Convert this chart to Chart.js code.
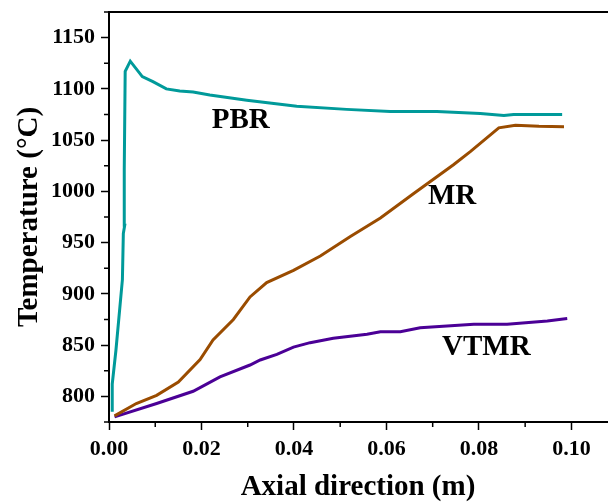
<!DOCTYPE html>
<html lang="en">
<head>
  <meta charset="UTF-8">
  <title>Axial temperature profiles</title>
  <script src="https://cdn.jsdelivr.net/npm/chart.js"></script>
  <style>
    body { margin: 0; background: #fff; }
    canvas { display: block; }
  </style>
</head>
<body>
  <canvas id="tempChart" width="608" height="502"></canvas>

  <script>
    // axial position (m) and temperature (°C)
    const pbrX = [0.0007, 0.0007, 0.0015, 0.0029, 0.0031, 0.0034, 0.0033, 0.0035, 0.0046, 0.0072, 0.0095, 0.0124, 0.0153, 0.0182, 0.0218, 0.0298, 0.0406, 0.0514, 0.0608, 0.0709, 0.0803, 0.0854, 0.0875, 0.0980];
    const pbrT = [785, 812, 845, 914, 959, 967, 1021, 1117, 1127, 1112, 1107, 1100, 1098, 1097, 1094, 1089, 1083, 1080, 1078, 1078, 1076, 1074, 1075, 1075];

    const mrX = [0.0012, 0.0059, 0.0103, 0.0150, 0.0197, 0.0225, 0.0269, 0.0305, 0.0341, 0.0399, 0.0457, 0.0522, 0.0587, 0.0659, 0.0745, 0.0782, 0.0843, 0.0879, 0.0930, 0.0984];
    const mrT = [781, 793, 801, 814, 836, 855, 875, 897, 911, 923, 937, 956, 974, 998, 1026, 1039, 1062, 1064.5, 1063.5, 1063];

    const vtmrX = [0.0012, 0.0103, 0.0182, 0.0240, 0.0305, 0.0327, 0.0363, 0.0399, 0.0435, 0.0485, 0.0558, 0.0587, 0.0630, 0.0673, 0.0789, 0.0861, 0.0948, 0.0991];
    const vtmrT = [780, 793, 805, 819, 830.6, 835.5, 841, 848, 852.4, 856.7, 860.6, 863, 863, 867, 870.4, 870.4, 873.6, 876];

    const seriesNames = ['PBR', 'MR', 'VTMR'];
    const seriesColors = ['#009a9a', '#9a4c00', '#4b0096'];
    // where each series name sits, in data units
    const nameX = [0.0285, 0.0742, 0.0816];
    const nameT = [1069, 995, 848];

    const serif = "'Liberation Serif', 'Times New Roman', serif";

    const toPoints = (xs, ys) => xs.map((x, i) => ({ x: x, y: ys[i] }));
    const isMajorX = v => Math.round(v * 100) % 2 === 0;
    const isMajorY = v => Math.round(v) % 50 === 0;

    // minor ticks, top frame line and the curve names
    const extras = {
      id: 'extras',
      afterDraw(chart) {
        const { ctx, chartArea, scales } = chart;
        ctx.save();
        ctx.strokeStyle = '#000';
        ctx.lineWidth = 1.5;
        scales.x.ticks.forEach(t => {
          if (isMajorX(t.value)) return;
          const px = scales.x.getPixelForValue(t.value);
          ctx.beginPath();
          ctx.moveTo(px, chartArea.bottom);
          ctx.lineTo(px, chartArea.bottom + 5);
          ctx.stroke();
        });
        scales.y.ticks.forEach(t => {
          if (isMajorY(t.value)) return;
          const py = scales.y.getPixelForValue(t.value);
          ctx.beginPath();
          ctx.moveTo(chartArea.left, py);
          ctx.lineTo(chartArea.left - 5, py);
          ctx.stroke();
        });

        ctx.lineWidth = 2;
        ctx.beginPath();
        ctx.moveTo(chartArea.left, chartArea.top);
        ctx.lineTo(chartArea.right + 1, chartArea.top);
        ctx.stroke();

        ctx.fillStyle = '#000';
        ctx.font = "bold 29px " + serif;
        ctx.textAlign = 'center';
        ctx.textBaseline = 'middle';
        seriesNames.forEach((name, i) => {
          ctx.fillText(name, scales.x.getPixelForValue(nameX[i]), scales.y.getPixelForValue(nameT[i]));
        });
        ctx.restore();
      }
    };

    new Chart(document.getElementById('tempChart'), {
      type: 'line',
      data: {
        datasets: [
          { label: 'PBR', data: toPoints(pbrX, pbrT), borderColor: seriesColors[0] },
          { label: 'MR', data: toPoints(mrX, mrT), borderColor: seriesColors[1] },
          { label: 'VTMR', data: toPoints(vtmrX, vtmrT), borderColor: seriesColors[2] }
        ]
      },
      options: {
        responsive: false,
        animation: false,
        layout: { padding: { left: 0, top: 12, right: 1, bottom: 0 } },
        elements: {
          line: { borderWidth: 3, tension: 0, fill: false },
          point: { radius: 0 }
        },
        plugins: { legend: { display: false }, tooltip: { enabled: false } },
        scales: {
          x: {
            type: 'linear',
            min: 0,
            max: 0.1077,
            afterFit: s => { s.height = 80; s.paddingLeft = 0; s.paddingRight = 0; },
            border: { display: true, color: '#000', width: 2 },
            grid: {
              drawOnChartArea: false,
              tickLength: 8,
              tickWidth: 1.5,
              tickColor: c => isMajorX(c.tick.value) ? '#000' : 'rgba(0,0,0,0)'
            },
            ticks: {
              stepSize: 0.01,
              includeBounds: false,
              autoSkip: false,
              maxRotation: 0,
              padding: 6,
              color: '#000',
              font: { family: serif, size: 22, weight: 'bold' },
              callback: v => isMajorX(v) ? v.toFixed(2) : ''
            },
            title: {
              display: true,
              text: 'Axial direction (m)',
              color: '#000',
              padding: { top: 0, bottom: 0 },
              font: { family: serif, size: 29, weight: 'bold', lineHeight: 1 }
            }
          },
          y: {
            min: 775,
            max: 1175,
            afterFit: s => { s.width = 109; s.paddingTop = 0; s.paddingBottom = 0; },
            border: { display: true, color: '#000', width: 2 },
            grid: {
              drawOnChartArea: false,
              tickLength: 8,
              tickWidth: 1.5,
              tickColor: c => isMajorY(c.tick.value) ? '#000' : 'rgba(0,0,0,0)'
            },
            ticks: {
              stepSize: 25,
              autoSkip: false,
              padding: 6,
              color: '#000',
              font: { family: serif, size: 22, weight: 'bold' },
              callback: v => isMajorY(v) ? String(v) : ''
            },
            title: {
              display: true,
              text: 'Temperature (°C)',
              color: '#000',
              padding: { top: 15, bottom: 0 },
              font: { family: serif, size: 29, weight: 'bold', lineHeight: 1 }
            }
          }
        }
      },
      plugins: [extras]
    });
  </script>
</body>
</html>
